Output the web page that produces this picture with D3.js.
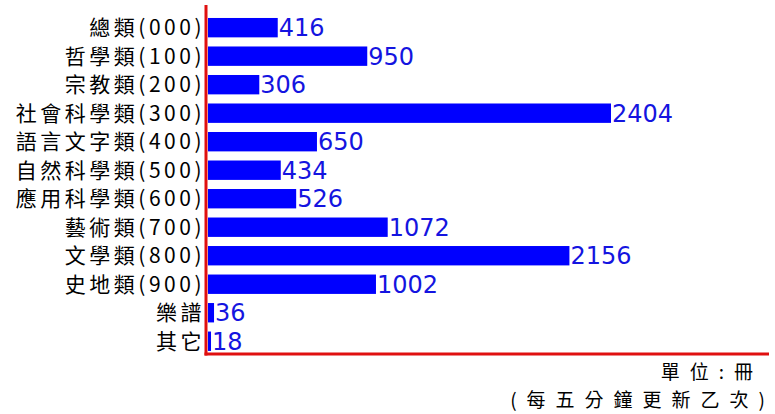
<!DOCTYPE html>
<html>
<head>
<meta charset="utf-8">
<script src="https://cdn.jsdelivr.net/npm/d3@7"></script>
<style>
  body { margin: 0; background: #fff; }
  .cat { font-family: "Noto Sans CJK TC", "Noto Sans CJK SC", sans-serif; font-size: 21px; letter-spacing: 3.5px; fill: #000; }
  .val { font-family: "DejaVu Sans", sans-serif; font-size: 24px; fill: #1414e0; }
  .note { font-family: "Noto Sans CJK TC", sans-serif; font-size: 19px; letter-spacing: 10px; fill: #000; }
</style>
</head>
<body>
<div id="chartid"></div>
<script>
/***** data *****/
var categories = ["總類(000)", "哲學類(100)", "宗教類(200)", "社會科學類(300)", "語言文字類(400)",
  "自然科學類(500)", "應用科學類(600)", "藝術類(700)", "文學類(800)", "史地類(900)", "樂譜", "其它"];
var counts = [416, 950, 306, 2404, 650, 434, 526, 1072, 2156, 1002, 36, 18];
var unitText = "單位:冊";
var updateText = "(每五分鐘更新乙次)";

var data = categories.map(function(c, i){ return {name: c, value: counts[i]}; });

//chart parameters
var width = 775;
var height = 414;
var axisX = 206;
var axisBottom = 354;

//create svg
var svg = d3.select("div#chartid")
  .append("svg")
  .attr("width", width)
  .attr("height", height)
;

//create scales
var x = d3.scaleLinear()
  .domain([0, 2404])
  .range([axisX + 2, 611])
;
var y = d3.scaleBand()
  .domain(categories)
  .range([13.7, 355.2])
  .paddingInner(0.32)
  .paddingOuter(0.15)
;

//bars
svg.selectAll("rect.bar")
  .data(data)
  .enter()
  .append("rect")
  .attr("class", "bar")
  .attr("x", x(0))
  .attr("y", function(d){ return y(d.name); })
  .attr("width", function(d){ return x(d.value) - x(0); })
  .attr("height", y.bandwidth())
  .attr("fill", "#0000ff")
;

//value labels
svg.selectAll("text.val")
  .data(data)
  .enter()
  .append("text")
  .attr("class", "val")
  .attr("x", function(d){ return x(d.value) + 1; })
  .attr("y", function(d){ return y(d.name) + y.bandwidth() / 2; })
  .attr("dy", "0.36em")
  .text(function(d){ return d.value; })
;

//category labels
svg.selectAll("text.cat")
  .data(data)
  .enter()
  .append("text")
  .attr("class", "cat")
  .attr("x", axisX - 1)
  .attr("y", function(d){ return y(d.name) + y.bandwidth() / 2; })
  .attr("dy", "0.36em")
  .attr("text-anchor", "end")
  .text(function(d){ return d.name; })
;

//axes (red lines)
svg.append("line")
  .attr("x1", axisX).attr("x2", axisX)
  .attr("y1", 5).attr("y2", axisBottom + 1.5)
  .attr("stroke", "#e01010")
  .attr("stroke-width", 3)
;
svg.append("line")
  .attr("x1", axisX - 1.5).attr("x2", 769)
  .attr("y1", axisBottom).attr("y2", axisBottom)
  .attr("stroke", "#e01010")
  .attr("stroke-width", 3)
;

//notes
svg.append("text")
  .attr("class", "note")
  .attr("x", 763)
  .attr("y", 379)
  .attr("text-anchor", "end")
  .text(unitText)
;
svg.append("text")
  .attr("class", "note")
  .attr("x", 775)
  .attr("y", 407)
  .attr("text-anchor", "end")
  .text(updateText)
;
</script>
</body>
</html>
